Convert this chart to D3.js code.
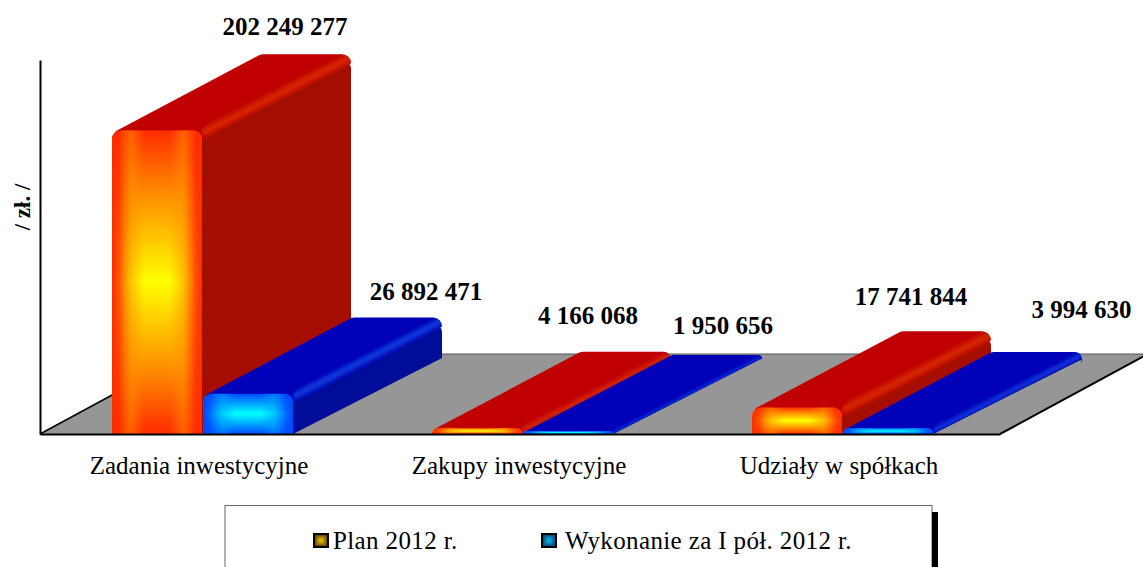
<!DOCTYPE html>
<html><head><meta charset="utf-8">
<script src="https://cdn.jsdelivr.net/npm/d3@7"></script>
<style>html,body{margin:0;padding:0;background:#fff;overflow:hidden}svg{display:block}text{font-family:"Liberation Serif",serif;fill:#000}</style>
</head><body><svg id="c" width="1143" height="567"></svg>
<script>
const categories = ["Zadania inwestycyjne","Zakupy inwestycyjne","Udziały w spółkach"];
const seriesNames = ["Plan 2012 r.","Wykonanie za I pół. 2012 r."];
const plan = [202249277,4166068,17741844];
const wykonanie = [26892471,1950656,3994630];
const yMax = 249000000;

const palettes = [
 {edge:"#ff2c00",mid:"#ff9000",core:"#ffff00",top:"#c00000",side:"#a50e00",rim:"#d42c00"},
 {edge:"#0048ff",mid:"#009cff",core:"#00ffff",top:"#0000b8",side:"#000c98",rim:"#0a3ad8"}
];
const nudgeX = [[-20.5,-37.5,-34.5],[29.5,6.5,45]];
const labelBaselines = [[35,324,305],[300,334,318]];

const svg = d3.select("#c"), defs = svg.append("defs");
const base = 434, left = 40, right = 1000, depthX = 149, depthY = 76, floorDepth = 80;
const y = d3.scaleLinear().domain([0,yMax]).range([base,60]);
const x0 = d3.scaleBand().domain(categories).range([left,right]);
const x1 = d3.scaleBand().domain(seriesNames).range([72,254]);

defs.append("filter").attr("id","soft").append("feGaussianBlur").attr("stdDeviation",2.2);
defs.append("filter").attr("id","aa").append("feGaussianBlur").attr("stdDeviation",0.45);

// floor
const fx = depthX-1;
svg.append("path")
  .attr("d",d3.line()([[left,base],[left+fx,base-floorDepth],[right+fx,base-floorDepth],[right,base]])+"Z")
  .attr("fill","#969696");
svg.append("path").attr("d",d3.line()([[left,base],[left+fx,base-floorDepth]])).attr("stroke","#000").attr("stroke-width",1.5).attr("fill","none");
svg.append("path").attr("d",d3.line()([[right,base],[right+fx,base-floorDepth]])).attr("stroke","#000").attr("stroke-width",2).attr("fill","none");
svg.append("path").attr("d",d3.line()([[left+fx,base-floorDepth],[right+fx,base-floorDepth]])).attr("stroke","#555").attr("stroke-width",1).attr("fill","none");

function stops(g,list){ list.forEach(s=>g.append("stop").attr("offset",s[0]).attr("stop-color",s[1]).attr("stop-opacity",s[2]===undefined?1:s[2])); }
function lin(id,a,b,c,d,list){
  stops(defs.append("linearGradient").attr("id",id).attr("gradientUnits","userSpaceOnUse")
    .attr("x1",a).attr("y1",b).attr("x2",c).attr("y2",d),list);
}
function rounded(pts,r){
  const p = d3.path(), n = pts.length;
  p.moveTo(pts[0][0],pts[0][1]);
  for(let i=1;i<n;i++){
    const c = pts[i];
    if(c[2]===undefined) p.lineTo(c[0],c[1]);
    else { const nx = pts[(i+1)%n]; p.arcTo(c[0],c[1],nx[0],nx[1],Math.min(r,c[2])); }
  }
  p.closePath();
  return p.toString();
}
// bevelled front: vertical gradient plus a soft rim on both sides
function frontFace(g,id,p,xa,xb,ya,yb){
  lin(id+"v",0,ya,0,yb,[[0,p.edge],[.22,p.mid],[.5,p.core],[.78,p.mid],[1,p.edge]]);
  g.append("rect").attr("x",xa).attr("y",ya).attr("width",xb-xa).attr("height",yb-ya).attr("fill",`url(#${id}v)`);
  const m = (xb-xa)*.36;
  const rim = [[0,p.edge,1],[.22,p.edge,.8],[.6,p.mid,.5],[1,p.mid,0]];
  lin(id+"l",xa,0,xa+m,0,rim);
  lin(id+"r",xb,0,xb-m,0,rim);
  g.append("rect").attr("x",xa).attr("y",ya).attr("width",m).attr("height",yb-ya).attr("fill",`url(#${id}l)`);
  g.append("rect").attr("x",xb-m).attr("y",ya).attr("width",m).attr("height",yb-ya).attr("fill",`url(#${id}r)`);
}
// small pyramid swatch
function swatch(g,id,p,xa,xb,ya,yb){
  const cx=(xa+xb)/2, cy=(ya+yb)/2;
  const list=[[0,p.edge],[1,p.core]];
  lin(id+"l",xa,cy,cx,cy,list); lin(id+"r",xb,cy,cx,cy,list);
  lin(id+"t",cx,ya,cx,cy,list); lin(id+"b",cx,yb,cx,cy,list);
  const tris = [["l",[[xa,ya],[cx,cy],[xa,yb]]],["r",[[xb,ya],[cx,cy],[xb,yb]]],
                ["t",[[xa,ya],[cx,cy],[xb,ya]]],["b",[[xa,yb],[cx,cy],[xb,yb]]]];
  g.selectAll(null).data(tris).join("path")
    .attr("d",d=>d3.line()(d[1])+"Z").attr("fill",d=>`url(#${id}${d[0]})`);
}

function bar(cat,si,val,ci){
  const p = palettes[si];
  const xa = x0(cat)+x1(seriesNames[si]), xb = xa+x1.bandwidth()-1;
  const top = y(val), h = base-top, r = Math.min(9,Math.max(3,h*1.2));
  const dx = depthX, dy = depthY;
  const g = svg.append("g").attr("filter","url(#aa)");
  // side wall
  g.append("path").attr("d",rounded([[xb,base],[xb,top],[xb+dx,top-dy,12],[xb+dx,base-dy]],r)).attr("fill",p.side);
  // top face
  g.append("path").attr("d",rounded([[xa+r*.4,top+1],[xa+dx,top-dy,9],[xb+dx,top-dy,12],[xb+dx,top-dy+r],[xb,top+Math.min(r,h)],[xb-2,top+Math.min(r,h)],[xa+r*.4,top+Math.min(r,h)]],r)).attr("fill",p.top);
  // bevel along the long top edge
  const rimId = "clip"+ci+si;
  defs.append("clipPath").attr("id",rimId).append("path")
    .attr("d",rounded([[xb,base],[xb,top],[xa+dx,top-dy],[xb+dx,top-dy,12],[xb+dx,base-dy]],r));
  g.append("g").attr("clip-path",`url(#${rimId})`).append("path")
    .attr("d",d3.line()([[xb,top+3],[xb+dx,top-dy+3]]))
    .attr("stroke",p.rim).attr("stroke-width",Math.max(4,Math.min(7,h*.8))).attr("fill","none").attr("filter","url(#soft)");
  // front face
  const fr = Math.min(r,h);
  const fid = "f"+ci+si;
  defs.append("clipPath").attr("id",fid+"c").append("path")
    .attr("d",rounded([[xa,base],[xa,top,fr],[xb,top,fr],[xb,base]],fr));
  frontFace(g.append("g").attr("clip-path",`url(#${fid}c)`),fid,p,xa,xb,top,base);
}
categories.forEach((c,i)=>{
  bar(c,0,plan[i],i);
  bar(c,1,wykonanie[i],i);
});

// axes
const xAxis = d3.axisBottom(x0).tickSize(0).tickPadding(22);
const ax = svg.append("g").attr("transform",`translate(0,${base})`).call(xAxis);
ax.select(".domain").attr("stroke","#000").attr("stroke-width",2);
ax.selectAll("text").attr("font-size",25).attr("dx",-1).style("font-family",'"Liberation Serif",serif');
const yAxis = d3.axisLeft(y).tickValues([]).tickSize(0);
const ay = svg.append("g").attr("transform",`translate(${left},0)`).call(yAxis);
ay.select(".domain").attr("stroke","#000").attr("stroke-width",2);

svg.append("text").attr("transform","translate(30,207) rotate(-90)").attr("text-anchor","middle")
  .attr("font-size",23).attr("font-weight","bold").text("/ zł. /");

// value labels
const fmt = v => d3.format(",")(v).replace(/,/g," ");
[plan,wykonanie].forEach((arr,si)=>arr.forEach((v,i)=>{
  const cx = x0(categories[i])+x1(seriesNames[si])+x1.bandwidth()/2+148;
  svg.append("text").attr("x",cx+nudgeX[si][i]).attr("y",labelBaselines[si][i])
    .attr("text-anchor","middle").attr("font-size",25).attr("font-weight","bold").text(fmt(v));
}));

// legend
const lg = svg.append("g");
lg.append("rect").attr("x",225).attr("y",505.5).attr("width",707).attr("height",70).attr("fill","#fff").attr("stroke","#666").attr("stroke-width",1);
lg.append("rect").attr("x",932).attr("y",512).attr("width",6).attr("height",60).attr("fill","#000");
const legendX = d3.scaleOrdinal().domain(seriesNames).range([313,541]);
seriesNames.forEach((s,i)=>{
  const lx = legendX(s), sg = lg.append("g");
  sg.append("rect").attr("x",lx).attr("y",533).attr("width",16).attr("height",15).attr("fill","#000");
  swatch(sg,"lg"+i,{edge:i?"#104878":"#6a4000",core:i?"#00d0ff":"#ffe000"},lx+2,lx+14,535,546);
  lg.append("text").attr("x",lx+(i?24:20)).attr("y",549).attr("font-size",25).attr("letter-spacing",".37").text(s);
});
</script></body></html>
